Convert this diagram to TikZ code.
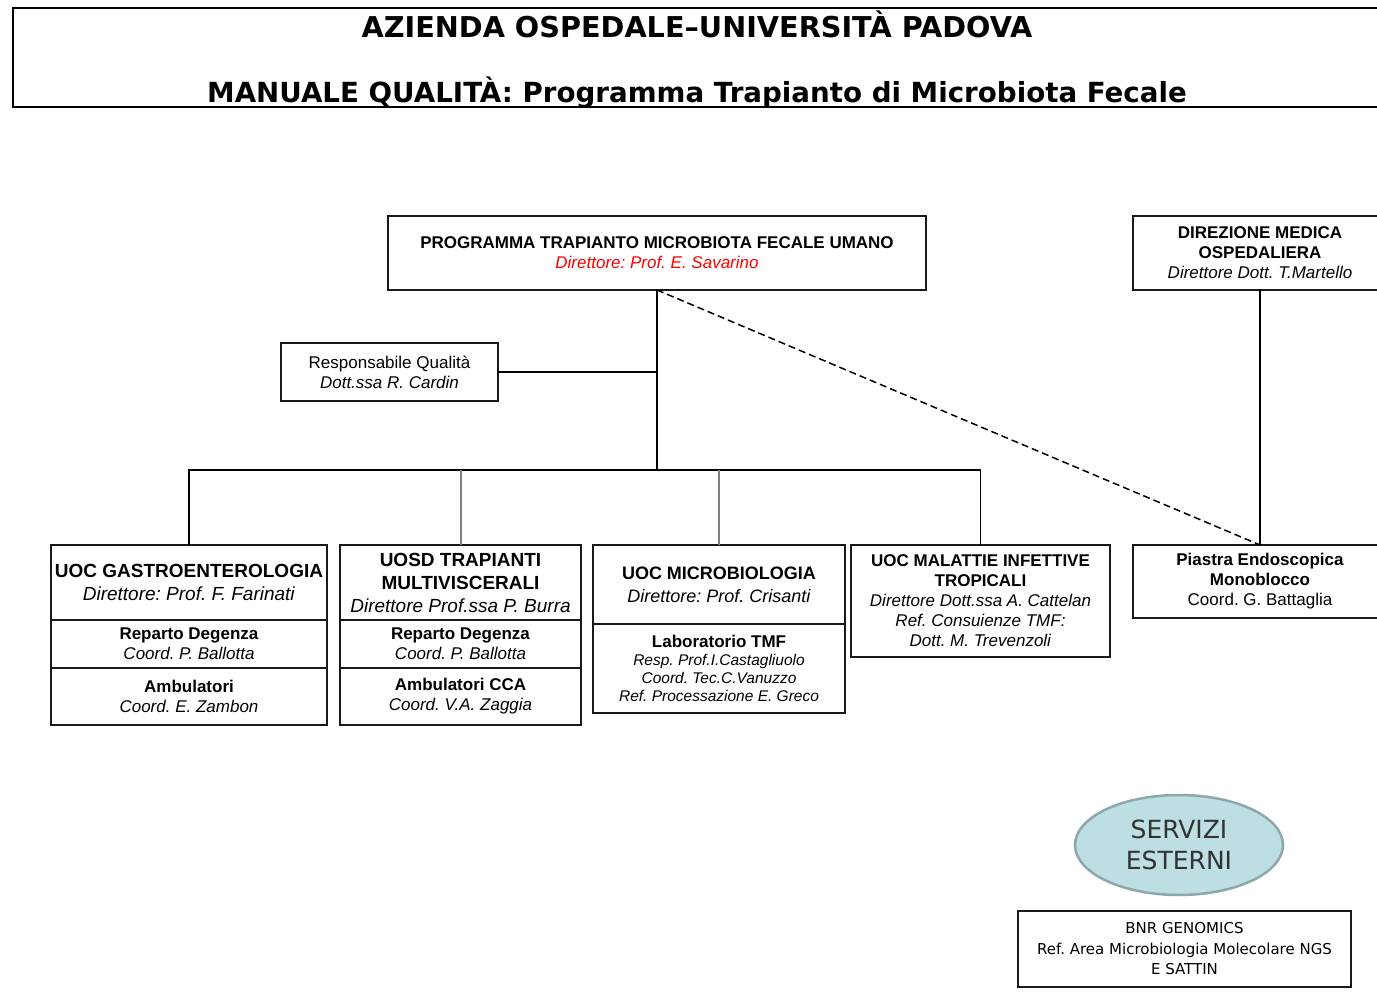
\documentclass[tikz,border=0pt]{standalone}
\usepackage{fontspec}
\setmainfont{Liberation Sans}
\newfontfamily\tahomaFont{DejaVu Sans}
\usetikzlibrary{positioning,shapes.geometric}
\definecolor{esterniFill}{RGB}{189,222,226}
\definecolor{esterniLine}{RGB}{140,168,172}
\frenchspacing

\begin{document}
\begin{tikzpicture}[x=1pt,y=-1pt,
    unitBox/.style={draw=black!90,line width=1.6pt,inner sep=0pt,outer sep=0pt,align=center,font=\fontsize{17}{20}\selectfont},
    headBox/.style={unitBox,font=\fontsize{19}{23}\selectfont},
    subBox/.style={unitBox,below=0pt of #1},
    link/.style={line width=1.8pt},
    grayLink/.style={line width=2pt,black!50},
  ]
  \useasboundingbox (0,0) rectangle (1377,1000);

  % intestazione
  \draw[line width=2.6pt] (13,8) rectangle (1381,107);
  \node[inner sep=0pt,align=center,font=\tahomaFont\bfseries] (title) at (697,60)
    {\fontsize{28.7}{30}\selectfont AZIENDA OSPEDALE–UNIVERSITÀ PADOVA\\[38pt]
     \fontsize{27.7}{30}\selectfont MANUALE QUALITÀ: Programma Trapianto di Microbiota Fecale};

  % vertice
  \node[unitBox,minimum width=538pt,minimum height=74pt] (prog) at (657,253)
    {\textbf{PROGRAMMA TRAPIANTO MICROBIOTA FECALE UMANO}\\\textcolor{red}{\textit{Direttore: Prof. E. Savarino}}};
  \node[unitBox,minimum width=254pt,minimum height=74pt] (dirmed) at (1260,253)
    {\textbf{DIREZIONE MEDICA}\\\textbf{OSPEDALIERA}\\\textit{Direttore Dott. T.Martello}};
  \node[unitBox,minimum width=217pt,minimum height=58pt] (respq) at (389.5,372)
    {Responsabile Qualità\\\textit{Dott.ssa R. Cardin}};

  % unita operative
  \node[headBox,minimum width=276pt,minimum height=75pt] (gastro) at (189,582.5)
    {\textbf{UOC GASTROENTEROLOGIA}\\\textit{Direttore: Prof. F. Farinati}};
  \node[subBox=gastro,minimum width=276pt,minimum height=48pt] (gastroRep)
    {\textbf{Reparto Degenza}\\\textit{Coord. P. Ballotta}};
  \node[subBox=gastroRep,minimum width=276pt,minimum height=57pt] (gastroAmb)
    {\textbf{Ambulatori}\\\textit{Coord. E. Zambon}};

  \node[headBox,minimum width=241pt,minimum height=75pt] (uosd) at (460.5,582.5)
    {\textbf{UOSD TRAPIANTI}\\\textbf{MULTIVISCERALI}\\\textit{Direttore Prof.ssa P. Burra}};
  \node[subBox=uosd,minimum width=241pt,minimum height=48pt] (uosdRep)
    {\textbf{Reparto Degenza}\\\textit{Coord. P. Ballotta}};
  \node[subBox=uosdRep,minimum width=241pt,minimum height=57pt] (uosdAmb)
    {\textbf{Ambulatori CCA}\\\textit{Coord. V.A. Zaggia}};

  \node[headBox,font=\fontsize{18}{23}\selectfont,minimum width=252pt,minimum height=79pt] (micro) at (719,584.5)
    {\textbf{UOC MICROBIOLOGIA}\\\textit{Direttore: Prof. Crisanti}};
  \node[subBox=micro,font=\fontsize{15.5}{18}\selectfont,minimum width=252pt,minimum height=89pt] (microLab)
    {\fontsize{17}{20}\selectfont\textbf{Laboratorio TMF}\\\textit{Resp. Prof.I.Castagliuolo}\\\textit{Coord. Tec.C.Vanuzzo}\\\textit{Ref. Processazione E. Greco}};

  \node[unitBox,minimum width=259pt,minimum height=112pt] (malinf) at (980.5,601)
    {\textbf{UOC MALATTIE INFETTIVE}\\\textbf{TROPICALI}\\\textit{Direttore Dott.ssa A. Cattelan}\\\textit{Ref. Consuienze TMF:}\\\textit{Dott. M. Trevenzoli}};

  \node[unitBox,minimum width=254pt,minimum height=73pt] (piastra) at (1260,581.5)
    {\textbf{Piastra Endoscopica}\\\textbf{Monoblocco}\\Coord. G. Battaglia};

  % servizi esterni
  \node[ellipse,draw=esterniLine,line width=2.5pt,fill=esterniFill,
        minimum width=208pt,minimum height=100pt,inner sep=0pt,align=center,text=black!80,
        font=\tahomaFont\fontsize{25}{31}\selectfont] (servizi) at (1179,845)
    {SERVIZI\\ESTERNI};
  \node[unitBox,minimum width=333pt,minimum height=76pt,font=\tahomaFont\fontsize{15}{20.5}\selectfont] (bnr) at (1184.5,949)
    {BNR GENOMICS\\Ref. Area Microbiologia Molecolare NGS\\E SATTIN};

  % collegamenti
  \coordinate (bus) at (657,470);
  \draw[link] (prog.south) -- (bus);
  \draw[link] (respq.east) -- (respq.east -| bus);
  \draw[link] (gastro.north) |- (bus) -| (malinf.north);
  \draw[grayLink] (uosd.north) -- (uosd.north |- bus);
  \draw[grayLink] (micro.north) -- (micro.north |- bus);
  \draw[link] (dirmed.south) -- (piastra.north);
  \draw[line width=1.5pt,dash pattern=on 7pt off 4pt] (prog.south) -- (piastra.north);

\end{tikzpicture}
\end{document}
